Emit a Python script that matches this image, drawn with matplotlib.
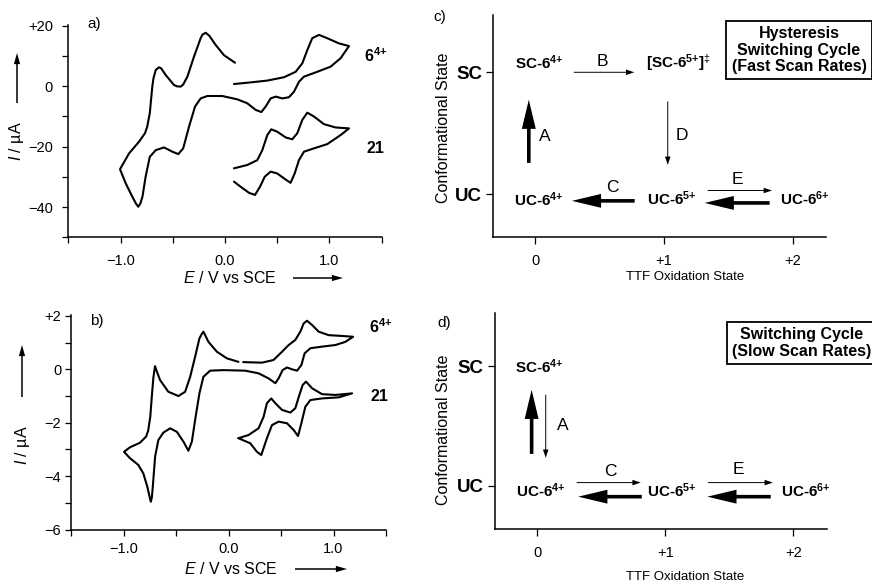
import matplotlib
matplotlib.use("Agg")
import matplotlib.pyplot as plt
from matplotlib.patches import FancyArrowPatch

plt.rcParams['font.family'] = ['Liberation Sans', 'DejaVu Sans']
plt.rcParams['mathtext.fontset'] = 'custom'
plt.rcParams['mathtext.rm'] = 'Liberation Sans'
plt.rcParams['mathtext.it'] = 'Liberation Sans:italic'
plt.rcParams['mathtext.bf'] = 'Liberation Sans:bold'

# ---- panel a: cyclic voltammograms (fast scan), E in V, I in uA ----
a_64_E = [0.096, -0.01, -0.09, -0.15, -0.185, -0.215, -0.233, -0.297, -0.36, -0.40, -0.424, -0.46,
          -0.488, -0.567, -0.61, -0.632, -0.663, -0.685, -0.696, -0.72, -0.745, -0.766, -0.823,
          -0.919, -1.005, -0.95, -0.887, -0.85, -0.83, -0.81, -0.79, -0.76, -0.72, -0.663, -0.584,
          -0.504, -0.447, -0.40, -0.345, -0.287, -0.233, -0.169, -0.026, 0.118, 0.213, 0.294,
          0.348, 0.389, 0.437, 0.485, 0.549, 0.612, 0.66, 0.708, 0.756, 0.883, 1.011, 1.107,
          1.187, 1.09, 0.979, 0.9, 0.835, 0.788, 0.74, 0.676, 0.565, 0.405, 0.246, 0.086]
a_64_I = [7.7, 10.2, 13.6, 16.6, 17.6, 17.0, 15.8, 9.7, 3.1, 0.5, -0.2, -0.1,
          0.33, 3.6, 5.8, 6.2, 5.3, 2.5, -0.2, -9.0, -13.5, -15.6, -18.4,
          -22.3, -27.5, -32.2, -36.6, -39.0, -39.9, -38.8, -36.6, -30.0, -23.4, -21.2, -20.3,
          -21.7, -22.5, -20.6, -13.5, -6.8, -4.1, -3.3, -3.3, -4.4, -5.7, -7.9,
          -8.6, -6.8, -4.1, -3.5, -4.1, -3.7, -1.9, 1.4, 3.1, 4.7, 6.4, 9.2,
          13.2, 14.1, 15.8, 16.9, 15.8, 11.9, 7.5, 4.7, 2.9, 1.8, 1.2, 0.66]
a_21_E = [0.086, 0.213, 0.309, 0.357, 0.405, 0.443, 0.5, 0.581, 0.644, 0.692, 0.74, 0.788,
          0.852, 0.947, 1.059, 1.187, 1.107, 0.979, 0.852, 0.756, 0.708, 0.667, 0.628, 0.58,
          0.5, 0.437, 0.38, 0.335, 0.287, 0.23, 0.15, 0.086]
a_21_I = [-27.2, -26.1, -24.5, -21.2, -16.2, -14.3, -15.1, -17.0, -17.6, -15.6, -11.2, -8.8,
          -10.1, -12.6, -13.7, -14.0, -16.2, -19.2, -20.6, -21.7, -24.5, -28.9, -32.0, -30.9,
          -28.9, -28.3, -30.0, -33.3, -36.0, -35.3, -33.3, -31.6]

# ---- panel b: cyclic voltammograms (slow scan) ----
b_64_E = [0.095, -0.015, -0.111, -0.191, -0.225, -0.239, -0.255, -0.277, -0.318, -0.365, -0.413,
          -0.477, -0.573, -0.652, -0.685, -0.70, -0.715, -0.728, -0.745, -0.765, -0.785, -0.843,
          -0.938, -0.995, -0.938, -0.859, -0.811, -0.773, -0.75, -0.74, -0.73, -0.721, -0.699,
          -0.668, -0.62, -0.556, -0.492, -0.429, -0.382, -0.349, -0.318, -0.277, -0.239, -0.175,
          -0.048, 0.159, 0.286, 0.382, 0.446, 0.477, 0.515, 0.557, 0.605, 0.653, 0.694, 0.725,
          0.78, 0.891, 1.018, 1.114, 1.187, 1.082, 0.954, 0.859, 0.796, 0.748, 0.716, 0.684,
          0.636, 0.573, 0.51, 0.429, 0.319, 0.14]
b_64_I = [0.28, 0.41, 0.66, 1.03, 1.3, 1.41, 1.32, 1.16, 0.47, -0.28, -0.84,
          -1.0, -0.84, -0.4, -0.05, 0.12, -0.3, -0.9, -1.78, -2.3, -2.52, -2.75,
          -2.92, -3.09, -3.33, -3.58, -3.9, -4.4, -4.8, -4.96, -4.8, -4.4, -3.27,
          -2.65, -2.37, -2.21, -2.34, -2.71, -3.05, -2.71, -1.9, -0.9, -0.28, -0.05,
          -0.03, -0.05, -0.15, -0.34, -0.52, -0.34, -0.03, 0.07, 0.0, -0.05, 0.16, 0.6,
          0.79, 0.85, 0.91, 1.03, 1.22, 1.25, 1.28, 1.41, 1.66, 1.82, 1.72, 1.41,
          1.1, 0.91, 0.66, 0.35, 0.25, 0.27]
b_21_E = [0.095, 0.191, 0.286, 0.334, 0.366, 0.407, 0.446, 0.51, 0.589, 0.636, 0.675, 0.706,
          0.738, 0.796, 0.891, 1.018, 1.177, 1.05, 0.891, 0.78, 0.732, 0.694, 0.662, 0.62,
          0.557, 0.477, 0.414, 0.366, 0.312, 0.271, 0.207, 0.095]
b_21_I = [-2.58, -2.46, -2.21, -1.78, -1.27, -1.09, -1.27, -1.52, -1.62, -1.46, -0.96, -0.59,
          -0.46, -0.71, -0.93, -0.96, -0.9, -1.05, -1.09, -1.15, -1.4, -2.02, -2.5, -2.27,
          -2.02, -1.96, -2.09, -2.58, -3.21, -3.09, -2.77, -2.58]

# ---- panels c/d: switching-cycle schemes (x = TTF oxidation state, y = 0 UC / 1 SC) ----
ox_ticks = [0, 1, 2]
ox_labels = ['0', '+1', '+2']
conf_ticks = [0, 1]
conf_labels = ['UC', 'SC']

c_state_text = ['SC-6$^{\\mathbf{4{+}}}$', '[SC-6$^{\\mathbf{5{+}}}$]$^{\\ddag}$',
                'UC-6$^{\\mathbf{4{+}}}$', 'UC-6$^{\\mathbf{5{+}}}$', 'UC-6$^{\\mathbf{6{+}}}$']
c_state_x = [0.03, 1.115, 0.025, 1.062, 2.094]
c_state_y = [1.08, 1.08, -0.047, -0.039, -0.039]
c_step_text = ['B', 'A', 'D', 'C', 'E']
c_step_x = [0.525, 0.075, 1.14, 0.596, 1.574]
c_step_y = [1.09, 0.47, 0.48, 0.052, 0.118]
# arrows: (x0, y0, x1, y1, heavy)
c_arrows = [(0.30, 1.0, 0.77, 1.0, False),
            (-0.05, 0.257, -0.05, 0.775, True),
            (1.03, 0.76, 1.03, 0.24, False),
            (0.773, -0.055, 0.285, -0.055, True),
            (1.34, 0.03, 1.84, 0.03, False),
            (1.822, -0.072, 1.317, -0.072, True)]

d_state_text = ['SC-6$^{\\mathbf{4{+}}}$', 'UC-6$^{\\mathbf{4{+}}}$', 'UC-6$^{\\mathbf{5{+}}}$',
                'UC-6$^{\\mathbf{6{+}}}$']
d_state_x = [0.02, 0.03, 1.05, 2.1]
d_state_y = [0.995, -0.042, -0.042, -0.042]
d_step_text = ['A', 'C', 'E']
d_step_x = [0.2, 0.568, 1.57]
d_step_y = [0.51, 0.12, 0.134]
d_arrows = [(-0.044, 0.268, -0.044, 0.805, True),
            (0.066, 0.763, 0.066, 0.235, False),
            (0.308, 0.028, 0.808, 0.028, False),
            (0.816, -0.09, 0.32, -0.09, True),
            (1.334, 0.028, 1.84, 0.028, False),
            (1.823, -0.09, 1.328, -0.09, True)]

W, H = 872, 587
fig = plt.figure(figsize=(W / 100, H / 100), dpi=100)
fig.patch.set_facecolor('white')

THIN = 'simple,head_length=6,head_width=4,tail_width=0.7'
HEAVY = 'simple,head_length=21,head_width=10,tail_width=2.6'
AXARROW = 'simple,head_length=8,head_width=4.5,tail_width=1.1'


def axes_px(left, top, right, bottom):
    return fig.add_axes([left / W, 1 - bottom / H, (right - left) / W, (bottom - top) / H])


def fxy(x, y):
    return (x / W, 1 - y / H)


def fig_arrow(x0, y0, x1, y1, style):
    fig.add_artist(FancyArrowPatch(fxy(x0, y0), fxy(x1, y1), transform=fig.transFigure,
                                   arrowstyle=style, mutation_scale=1, color='k', lw=0,
                                   shrinkA=0, shrinkB=0))


def clean_spines(ax):
    for s in ['top', 'right']:
        ax.spines[s].set_visible(False)
    for s in ['left', 'bottom']:
        ax.spines[s].set_linewidth(1.1)


def cv_axes(ax, ylo, yhi, ystep, ylabels, xpad, ypad):
    clean_spines(ax)
    ax.set_xlim(-1.5, 1.5)
    ax.set_ylim(ylo, yhi)
    ax.set_xticks([-1.5, -1.0, -0.5, 0.0, 0.5, 1.0, 1.5])
    ax.set_xticklabels(['', '\u22121.0', '', '0.0', '', '1.0', ''])
    yt = [ylo + ystep * i for i in range(int(round((yhi - ylo) / ystep)) + 1)]
    ax.set_yticks(yt)
    ax.set_yticklabels([ylabels.get(round(v, 3), '') for v in yt])
    ax.tick_params(direction='out', length=4, width=0.9, labelsize=10.5)
    ax.tick_params(axis='x', pad=xpad)
    ax.tick_params(axis='y', pad=ypad)


# ---- a ----
ax_a = axes_px(68.3, 24.6, 381.7, 237.3)
ax_a.plot(a_64_E, a_64_I, color='k', lw=1.5, solid_joinstyle='round', solid_capstyle='round')
ax_a.plot(a_21_E, a_21_I, color='k', lw=1.5, solid_joinstyle='round', solid_capstyle='round')
cv_axes(ax_a, -50, 20, 10, {20: '+20', 0: '0', -20: '\u221220', -40: '\u221240'}, 8, 7)
ax_a.set_ylim(-50, 20.3)
ax_a.text(1.44, 10.2, '6$^{\\mathbf{4{+}}}$', fontsize=11.5, fontweight='bold', ha='center', va='center')
ax_a.text(1.44, -20.6, '21', fontsize=11.5, fontweight='bold', ha='center', va='center')

# ---- b ----
ax_b = axes_px(71, 314.6, 386, 529.5)
ax_b.plot(b_64_E, b_64_I, color='k', lw=1.5, solid_joinstyle='round', solid_capstyle='round')
ax_b.plot(b_21_E, b_21_I, color='k', lw=1.5, solid_joinstyle='round', solid_capstyle='round')
cv_axes(ax_b, -6, 2, 1, {2: '+2', 0: '0', -2: '\u22122', -4: '\u22124', -6: '\u22126'}, 5, 3)
ax_b.set_ylim(-6, 2.05)
ax_b.text(1.45, 1.6, '6$^{\\mathbf{4{+}}}$', fontsize=11.5, fontweight='bold', ha='center', va='center')
ax_b.text(1.44, -1.0, '21', fontsize=11.5, fontweight='bold', ha='center', va='center')

for lx, ly, ay0, ay1, bx, by, bx0, bx1 in [(17, 141, 103, 53, 230, 278, 293, 343),
                                            (22, 445, 397, 345, 231, 569, 295, 347)]:
    fig.text(*fxy(lx, ly), '$I$ / \u00b5A', rotation=90, fontsize=11.5, ha='center', va='center')
    fig_arrow(lx, ay0, lx, ay1, AXARROW)
    fig.text(*fxy(bx, by), '$E$ / V vs SCE', fontsize=11.5, ha='center', va='center')
    fig_arrow(bx0, by, bx1, by, AXARROW)


def scheme_axes(ax, xlim, ylim):
    clean_spines(ax)
    ax.set_xlim(*xlim)
    ax.set_ylim(*ylim)
    ax.set_xticks(ox_ticks)
    ax.set_xticklabels(ox_labels)
    ax.set_yticks(conf_ticks)
    ax.set_yticklabels(conf_labels, fontweight='bold', fontsize=13.5)
    ax.tick_params(axis='x', direction='out', length=5, width=0.9, labelsize=10.5, pad=7)
    ax.tick_params(axis='y', direction='out', length=5, width=0.9, pad=3)


def draw_scheme(ax, st, sx, sy, kt, kx, ky, arrows):
    for t, x, y in zip(st, sx, sy):
        ax.text(x, y, t, fontsize=11, fontweight='bold', ha='center', va='center')
    for t, x, y in zip(kt, kx, ky):
        ax.text(x, y, t, fontsize=12.5, ha='center', va='center')
    for x0, y0, x1, y1, heavy in arrows:
        ax.add_patch(FancyArrowPatch((x0, y0), (x1, y1), arrowstyle=HEAVY if heavy else THIN,
                                     mutation_scale=1, color='k', lw=0, shrinkA=0, shrinkB=0))


# ---- c ----
ax_c = axes_px(493.3, 15, 826, 237.3)
scheme_axes(ax_c, (-0.326, 2.26), (-0.354, 1.47))
draw_scheme(ax_c, c_state_text, c_state_x, c_state_y, c_step_text, c_step_x, c_step_y, c_arrows)

# ---- d ----
ax_d = axes_px(495, 312.7, 826.7, 529.3)
scheme_axes(ax_d, (-0.33, 2.26), (-0.363, 1.45))
draw_scheme(ax_d, d_state_text, d_state_x, d_state_y, d_step_text, d_step_x, d_step_y, d_arrows)

for ly, by in [(128, 277), (430, 577)]:
    fig.text(*fxy(444, ly), 'Conformational State', rotation=90, fontsize=11.5, ha='center', va='center')
    fig.text(*fxy(685, by), 'TTF Oxidation State', fontsize=9.5, ha='center', va='center')

box = dict(boxstyle='square,pad=0.35', fc='white', ec='k', lw=1.3)
fig.text(*fxy(799, 50), 'Hysteresis\nSwitching Cycle\n(Fast Scan Rates)', fontsize=11.5,
         fontweight='bold', ha='center', va='center', linespacing=1.1, bbox=box)
fig.text(*fxy(802, 343), 'Switching Cycle\n(Slow Scan Rates)', fontsize=11.5,
         fontweight='bold', ha='center', va='center', linespacing=1.1, bbox=box)

for t, x, y in [('a)', 87, 24), ('b)', 90, 321), ('c)', 433, 17), ('d)', 437, 323)]:
    fig.text(*fxy(x, y), t, fontsize=11, ha='left', va='center')

fig.savefig('out.png', dpi=100)
